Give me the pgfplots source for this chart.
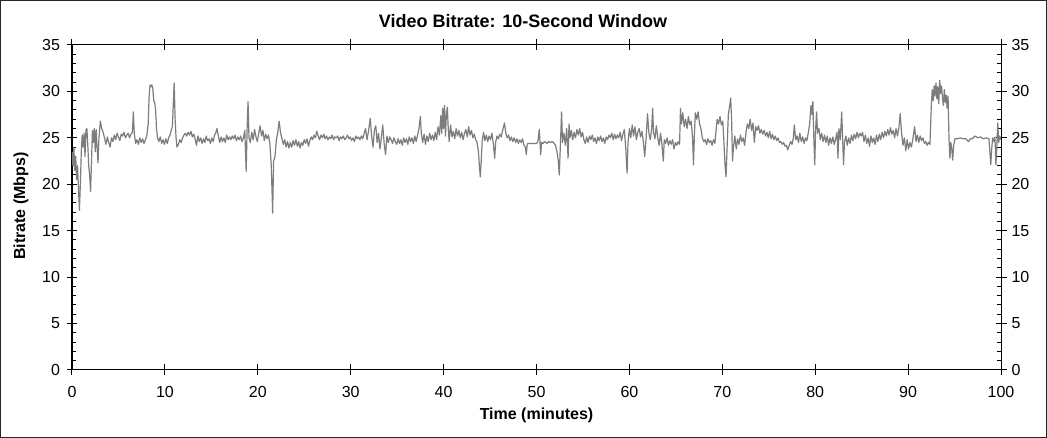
\documentclass[border=0pt]{standalone}
\usepackage{fontspec}
\setmainfont{Liberation Sans}
\usepackage{pgfplots}
\pgfplotsset{compat=1.18}
\definecolor{linegray}{RGB}{125,125,125}
\pgfplotstableread{
t v
0.0 23.5
0.1 22.0
0.2 24.0
0.3 21.5
0.4 23.0
0.5 20.5
0.6 22.0
0.7 19.5
0.8 17.2
0.9 20.0
1.0 23.5
1.1 25.3
1.2 24.0
1.3 25.5
1.4 23.0
1.5 25.8
1.6 26.0
1.7 24.2
1.8 22.0
1.9 21.0
2.0 19.2
2.1 22.5
2.2 25.8
2.3 24.5
2.4 26.0
2.5 23.5
2.6 25.9
2.7 24.0
2.8 22.3
2.9 25.0
3.05 26.8
3.2 26.0
3.35 25.6
3.5 25.0
3.65 24.3
3.8 25.1
3.95 24.5
4.1 24.0
4.25 25.0
4.4 24.6
4.55 25.3
4.7 24.8
4.85 25.5
5.0 25.1
5.15 24.7
5.3 25.4
5.45 25.2
5.6 25.6
5.75 25.0
5.9 25.3
6.05 25.5
6.2 25.0
6.35 25.4
6.5 25.6
6.6 27.8
6.7 25.5
6.85 24.4
7.0 24.8
7.15 24.3
7.3 25.0
7.45 24.5
7.6 24.9
7.75 24.4
7.9 24.8
8.05 25.2
8.2 26.5
8.3 29.5
8.4 30.7
8.5 30.5
8.6 30.7
8.7 30.3
8.8 29.0
8.9 28.8
9.0 28.0
9.1 26.0
9.2 25.0
9.35 24.6
9.5 25.1
9.65 24.4
9.8 24.8
9.95 24.3
10.1 24.9
10.25 24.4
10.4 25.0
10.55 25.3
10.7 25.9
10.8 26.2
10.9 28.5
11.0 30.9
11.1 27.0
11.2 25.0
11.3 24.0
11.45 24.3
11.6 24.8
11.75 24.5
11.9 25.0
12.05 25.3
12.2 25.5
12.35 25.2
12.5 25.6
12.65 25.3
12.8 25.7
12.95 25.1
13.1 25.4
13.25 24.9
13.4 24.2
13.55 25.2
13.7 24.6
13.85 25.0
14.0 24.4
14.15 24.9
14.3 24.5
14.45 25.2
14.6 24.7
14.75 24.9
14.9 24.4
15.05 25.0
15.2 24.6
15.35 25.3
15.5 25.6
15.6 26.0
15.75 25.2
15.9 24.5
16.05 25.1
16.2 24.6
16.35 25.0
16.5 24.5
16.65 25.3
16.8 24.8
16.95 25.1
17.1 24.8
17.25 25.2
17.4 24.9
17.55 25.3
17.7 24.7
17.85 25.1
18.0 24.8
18.15 25.2
18.3 24.6
18.45 25.0
18.6 25.8
18.75 21.4
18.85 26.0
18.95 28.9
19.05 25.0
19.2 24.5
19.35 25.6
19.5 24.8
19.65 25.9
19.8 25.1
19.95 24.6
20.1 25.5
20.25 26.3
20.4 25.2
20.55 25.8
20.7 24.7
20.85 25.4
21.0 24.9
21.15 25.3
21.3 24.4
21.45 22.0
21.6 16.9
21.7 22.5
21.85 23.0
22.0 24.8
22.15 25.6
22.3 26.8
22.45 25.5
22.6 24.9
22.75 24.3
22.9 24.8
23.05 24.0
23.2 24.6
23.35 23.9
23.5 24.5
23.65 24.0
23.8 24.7
23.95 24.2
24.1 24.8
24.25 24.1
24.4 24.6
24.55 23.9
24.7 24.5
24.85 24.2
25.0 24.8
25.15 24.4
25.3 24.9
25.45 24.1
25.6 24.7
25.75 25.1
25.9 24.8
26.05 25.3
26.2 25.0
26.35 25.7
26.5 25.2
26.65 24.8
26.8 25.3
26.95 25.0
27.1 25.4
27.25 24.9
27.4 25.2
27.55 24.8
27.7 25.1
27.85 24.9
28.0 25.3
28.15 24.8
28.3 25.1
28.45 25.0
28.6 25.2
28.75 24.7
28.9 25.1
29.05 24.9
29.2 25.2
29.35 24.8
29.5 25.0
29.65 25.3
29.8 24.9
29.95 25.1
30.1 24.7
30.25 25.0
30.4 24.6
30.55 25.2
30.7 24.9
30.85 25.1
31.0 24.8
31.15 25.2
31.3 24.9
31.45 25.5
31.6 26.0
31.75 24.8
31.9 25.6
32.1 27.1
32.25 25.2
32.4 24.0
32.55 25.8
32.7 26.3
32.85 24.5
33.0 25.5
33.15 23.8
33.3 25.0
33.45 26.4
33.6 24.4
33.75 23.2
33.9 25.2
34.05 24.5
34.2 25.1
34.35 24.8
34.5 24.4
34.65 25.0
34.8 24.6
34.95 24.3
35.1 24.9
35.25 24.4
35.4 24.8
35.55 24.2
35.7 25.0
35.85 24.5
36.0 24.9
36.15 24.3
36.3 25.1
36.45 24.6
36.6 25.0
36.75 24.4
36.9 25.2
37.05 24.6
37.2 25.3
37.35 26.0
37.5 27.3
37.6 25.5
37.75 24.5
37.9 25.4
38.05 24.3
38.2 25.2
38.35 24.6
38.5 25.5
38.65 24.8
38.8 25.3
38.95 24.7
39.1 25.6
39.25 24.8
39.4 26.2
39.55 25.3
39.7 27.4
39.8 25.5
39.9 28.2
40.0 26.0
40.1 28.5
40.2 25.2
40.3 27.5
40.4 28.3
40.5 26.0
40.6 24.6
40.75 26.4
40.9 25.1
41.05 25.7
41.2 24.9
41.35 26.0
41.5 25.2
41.65 25.8
41.8 25.0
41.95 25.6
42.1 24.8
42.25 25.5
42.4 25.9
42.55 25.1
42.7 26.2
42.85 25.3
43.0 25.8
43.15 25.0
43.3 25.4
43.45 24.8
43.6 24.5
43.75 23.5
43.85 22.0
43.95 20.8
44.05 22.5
44.15 24.6
44.3 25.6
44.45 24.7
44.6 25.3
44.75 24.6
44.9 25.2
45.05 24.8
45.2 25.5
45.35 24.4
45.5 22.8
45.6 24.5
45.75 25.2
45.9 24.9
46.05 25.4
46.2 25.1
46.35 25.8
46.55 26.6
46.7 25.5
46.85 25.0
47.0 25.3
47.15 24.7
47.3 25.1
47.45 24.6
47.6 25.0
47.75 24.5
47.9 24.9
48.05 24.4
48.2 24.8
48.35 24.5
48.5 24.9
48.65 24.2
48.8 24.0
48.9 23.2
49.0 24.3
49.1 24.4
49.4 24.4
49.7 24.4
50.0 24.4
50.15 24.6
50.3 25.9
50.45 23.2
50.55 24.5
50.7 24.4
50.85 24.6
51.0 24.5
51.15 24.4
51.3 24.6
51.5 24.5
51.7 24.6
51.9 24.4
52.05 24.2
52.2 23.5
52.35 22.5
52.45 21.0
52.6 25.0
52.7 27.8
52.8 24.5
52.95 25.5
53.1 24.2
53.25 26.0
53.4 22.8
53.5 26.5
53.6 25.0
53.75 25.8
53.9 24.8
54.05 25.6
54.2 25.0
54.35 25.9
54.5 25.3
54.65 26.0
54.8 25.1
54.95 25.6
55.1 24.8
55.25 24.4
55.4 25.1
55.55 24.5
55.7 25.2
55.85 24.8
56.0 25.3
56.15 24.6
56.3 25.0
56.45 24.4
56.6 25.1
56.75 24.7
56.9 25.2
57.05 24.6
57.2 25.0
57.35 24.4
57.5 25.1
57.65 24.8
57.8 25.3
57.95 25.0
58.1 25.5
58.25 24.8
58.4 25.4
58.55 24.9
58.7 25.3
58.85 25.0
59.0 25.6
59.15 24.7
59.3 25.4
59.45 25.9
59.6 24.0
59.75 21.2
59.85 24.5
60.0 26.0
60.15 25.0
60.3 26.4
60.45 25.2
60.6 26.2
60.75 24.8
60.9 25.6
61.05 26.0
61.2 25.1
61.35 25.7
61.5 24.6
61.65 23.0
61.8 25.0
61.95 27.6
62.1 25.5
62.25 24.8
62.4 26.0
62.5 28.2
62.6 25.6
62.75 24.9
62.9 26.3
63.05 25.0
63.2 24.2
63.35 25.5
63.5 24.3
63.65 22.5
63.75 24.8
63.9 24.4
64.05 25.0
64.2 24.2
64.35 24.7
64.5 24.3
64.65 24.8
64.8 23.8
64.95 24.5
65.1 24.2
65.25 24.6
65.4 24.3
65.5 28.2
65.6 26.5
65.75 27.7
65.9 26.2
66.05 27.0
66.2 26.0
66.35 27.3
66.5 26.4
66.65 26.8
66.8 25.0
66.9 22.1
67.0 25.5
67.1 27.7
67.25 27.0
67.4 27.8
67.55 26.5
67.7 26.0
67.85 25.0
68.0 24.6
68.15 24.8
68.3 24.3
68.45 24.9
68.6 24.5
68.75 24.7
68.9 24.2
69.05 24.8
69.2 24.4
69.3 25.5
69.45 27.0
69.6 26.5
69.75 27.3
69.9 26.4
70.05 26.8
70.15 25.0
70.3 22.0
70.4 20.8
70.5 23.5
70.65 27.5
70.8 28.5
70.9 29.3
71.0 27.0
71.1 22.5
71.2 24.0
71.35 25.2
71.5 23.8
71.65 24.9
71.8 24.3
71.95 25.3
72.1 24.6
72.25 25.0
72.4 24.2
72.55 25.6
72.7 26.5
72.85 26.0
73.0 27.0
73.15 25.8
73.3 26.6
73.45 24.5
73.6 26.2
73.75 25.8
73.9 26.3
74.05 25.5
74.2 25.9
74.35 25.4
74.5 25.8
74.65 25.2
74.8 25.6
74.95 25.0
75.1 25.7
75.25 24.9
75.4 25.4
75.55 24.8
75.7 25.2
75.85 24.7
76.0 25.0
76.15 24.5
76.3 24.6
76.45 24.3
76.6 24.5
76.75 24.1
76.9 24.2
77.05 23.7
77.2 24.2
77.35 24.6
77.5 24.3
77.65 25.0
77.75 26.4
77.9 24.8
78.05 25.2
78.2 24.5
78.35 25.5
78.5 24.6
78.65 25.1
78.8 24.4
78.95 25.0
79.1 24.7
79.25 25.5
79.4 26.5
79.55 28.5
79.65 27.5
79.75 28.9
79.85 25.0
79.95 22.1
80.05 26.0
80.15 27.8
80.25 25.5
80.4 26.0
80.55 24.8
80.7 25.5
80.85 24.6
81.0 25.3
81.15 24.5
81.3 25.2
81.45 24.2
81.6 25.0
81.75 24.4
81.9 25.1
82.05 24.3
82.2 24.9
82.35 25.6
82.45 22.8
82.55 26.0
82.7 24.8
82.85 27.8
82.95 25.0
83.05 22.1
83.15 24.5
83.3 25.2
83.45 24.2
83.6 25.0
83.75 24.4
83.9 25.3
84.05 24.7
84.2 25.4
84.35 24.9
84.5 25.6
84.65 25.0
84.8 25.5
84.95 25.2
85.1 25.6
85.25 24.6
85.4 25.3
85.55 24.4
85.7 25.0
85.85 24.1
86.0 25.2
86.15 24.5
86.3 25.0
86.45 24.3
86.6 25.3
86.75 24.6
86.9 25.4
87.05 24.8
87.2 25.6
87.35 25.0
87.5 25.7
87.65 25.2
87.8 25.9
87.95 25.3
88.1 26.1
88.25 25.4
88.4 25.8
88.55 25.0
88.7 26.0
88.85 25.2
89.0 26.0
89.15 27.6
89.3 25.5
89.45 24.2
89.6 25.0
89.75 23.6
89.9 24.8
90.05 23.8
90.2 24.5
90.35 24.0
90.5 24.8
90.7 26.2
90.85 24.6
91.0 25.3
91.15 24.5
91.3 25.2
91.45 24.7
91.6 25.0
91.75 24.4
91.9 24.6
92.05 24.2
92.2 24.5
92.35 24.3
92.5 28.5
92.6 30.2
92.7 29.0
92.8 30.6
92.9 29.5
93.0 30.9
93.1 29.2
93.2 30.5
93.3 28.7
93.4 31.2
93.5 29.8
93.6 30.6
93.7 29.3
93.8 28.5
93.9 30.2
94.0 28.8
94.1 29.6
94.2 28.2
94.3 29.5
94.4 25.0
94.5 22.8
94.6 24.5
94.7 23.8
94.8 22.6
94.9 24.2
95.05 24.9
95.3 24.9
95.6 25.0
95.9 24.9
96.2 24.9
96.5 24.6
96.7 24.9
96.9 24.9
97.2 25.2
97.5 25.0
97.8 25.1
98.1 24.9
98.4 25.0
98.7 24.9
98.8 23.5
98.9 22.1
99.0 23.8
99.1 25.0
99.25 24.6
99.35 25.1
99.45 22.1
99.55 24.0
99.65 26.6
99.75 24.5
99.85 25.2
100.0 24.8
}\bitrate
\begin{document}
\begin{tikzpicture}[x=1pt,y=1pt]
\useasboundingbox (0,0) rectangle (1047,438);
\fill[white] (0,0) rectangle (1047,438);
\draw[line width=1pt, black!85] (0.5,0.5) rectangle (1046.5,437.5);
% minor ticks and right-hand labels
\begin{axis}[
  at={(72pt,68pt)}, anchor=south west,
  width=929pt, height=325pt, scale only axis,
  xmin=0, xmax=100, ymin=0, ymax=35,
  xtick=\empty, ytick={0,5,...,35},
  minor xtick={0,2,...,100}, minor ytick={0,1,...,35},
  tick align=inside, major tick length=0pt, minor tick length=4pt,
  xtick pos=both, ytick pos=both, yticklabel pos=right,
  axis line style={line width=1pt},
  every tick/.style={black, line width=1pt},
  /pgf/number format/assume math mode=true,
  yticklabel style={font=\fontsize{16}{18}\selectfont, xshift=7pt},
]
\end{axis}
% main axis with data
\begin{axis}[
  at={(72pt,68pt)}, anchor=south west,
  width=929pt, height=325pt, scale only axis,
  xmin=0, xmax=100, ymin=0, ymax=35,
  xtick={0,10,...,100}, ytick={0,5,...,35},
  minor tick num=0,
  tick align=center, major tick length=11pt,
  xtick pos=both, ytick pos=both, xticklabel pos=bottom, yticklabel pos=left,
  axis line style={line width=1pt},
  every tick/.style={black, line width=1pt},
  /pgf/number format/assume math mode=true,
  ticklabel style={font=\fontsize{16}{18}\selectfont},
  yticklabel style={xshift=-3pt},
  xticklabel style={yshift=-7pt},
  every axis title shift=0pt,
  title={Video Bitrate: 10-Second Window},
  title style={font=\bfseries\fontsize{18}{20}\selectfont, at={(axis description cs:0.4855,1.0738)}, anchor=center},
  xlabel={Time (minutes)},
  xlabel style={font=\bfseries\fontsize{16}{18}\selectfont, at={(axis description cs:0.5,-0.1385)}, anchor=center},
  ylabel={Bitrate (Mbps)},
  ylabel style={font=\bfseries\fontsize{16}{18}\selectfont, at={(axis description cs:-0.0550,0.5046)}, anchor=center, rotate=0},
]
\addplot[linegray, line width=1.2pt, line join=round] table[x=t, y=v] {\bitrate};
\end{axis}
\end{tikzpicture}
\end{document}
